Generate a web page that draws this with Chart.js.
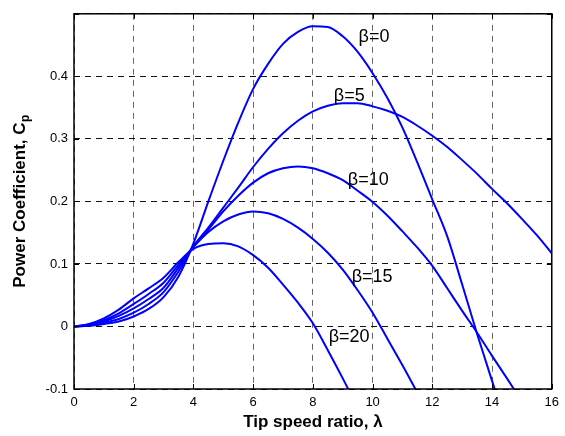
<!DOCTYPE html>
<html>
<head>
<meta charset="utf-8">
<script src="https://cdn.jsdelivr.net/npm/chart.js@4.4.0/dist/chart.umd.min.js"></script>
<style>
  body { margin: 0; background: #fff; }
  canvas { display: block; background: #fff; }
</style>
</head>
<body>
<canvas id="cpChart" width="565" height="436"></canvas>
<script>
// tip speed ratio samples
const lambda = [0,0.5,1,1.5,2,2.5,3,3.5,4,4.5,5,5.5,6,6.5,7,7.5,8,8.5,9,9.5,10,10.5,11,11.5,12,12.5,13,13.5,14,14.5,15,15.5,16];

// power coefficient, one array per pitch angle
const cpBeta0  = [0,0.001,0.004,0.008,0.016,0.028,0.047,0.08,0.133,0.2,0.265,0.326,0.38,0.42,0.452,0.471,0.48,0.479,0.464,0.439,0.405,0.365,0.318,0.262,0.203,0.144,0.067,-0.012,-0.087,-0.16,null,null,null];
const cpBeta5  = [0,0.0015,0.006,0.012,0.022,0.036,0.055,0.088,0.128,0.158,0.19,0.222,0.255,0.284,0.309,0.329,0.344,0.353,0.357,0.357,0.352,0.345,0.335,0.321,0.305,0.287,0.266,0.244,0.22,0.197,0.172,0.146,0.117];
const cpBeta10 = [0,0.002,0.008,0.017,0.029,0.044,0.062,0.094,0.128,0.155,0.184,0.209,0.23,0.245,0.253,0.256,0.253,0.245,0.234,0.217,0.199,0.177,0.152,0.126,0.097,0.061,0.025,-0.01,-0.047,-0.083,-0.12,null,null];
const cpBeta15 = [0,0.003,0.01,0.021,0.036,0.052,0.07,0.099,0.127,0.151,0.168,0.179,0.184,0.181,0.172,0.158,0.14,0.118,0.091,0.058,0.022,-0.02,-0.062,-0.106,null,null,null,null,null,null,null,null,null];
const cpBeta20 = [0,0.004,0.013,0.027,0.045,0.061,0.078,0.103,0.124,0.132,0.133,0.128,0.114,0.094,0.067,0.038,0.005,-0.038,-0.083,-0.13,null,null,null,null,null,null,null,null,null,null,null,null,null];

const betaNames = ['β=0', 'β=5', 'β=10', 'β=15', 'β=20'];
const xTicks = [0,2,4,6,8,10,12,14,16];
const yTicks = [-0.1,0,0.1,0.2,0.3,0.4,0.5];
const yTickLabels = ['-0.1','0','0.1','0.2','0.3','0.4',''];

// where the curve names sit (data units, left edge / baseline)
const labelPos = [
  {x: 9.53, y: 0.455},
  {x: 8.70, y: 0.361},
  {x: 9.17, y: 0.227},
  {x: 9.30, y: 0.071},
  {x: 8.53, y: -0.025}
];

const series = [cpBeta0, cpBeta5, cpBeta10, cpBeta15, cpBeta20];

function toPoints(arr) {
  const pts = [];
  for (let i = 0; i < lambda.length; i++) {
    if (arr[i] !== null) pts.push({x: lambda[i], y: arr[i]});
  }
  return pts;
}

const fontSans = "'Liberation Sans', Arial, sans-serif";

const framePlugin = {
  id: 'frame',
  afterDraw(chart) {
    const ctx = chart.ctx;
    const a = chart.chartArea;
    const xs = chart.scales.x;
    const ys = chart.scales.y;
    ctx.save();

    // ticks pointing inwards on all four sides
    ctx.strokeStyle = '#000';
    ctx.lineWidth = 1;
    ctx.beginPath();
    xTicks.forEach(function (v) {
      const px = Math.round(xs.getPixelForValue(v)) + 0.5;
      ctx.moveTo(px, a.bottom); ctx.lineTo(px, a.bottom - 5);
      ctx.moveTo(px, a.top); ctx.lineTo(px, a.top + 5);
    });
    yTicks.forEach(function (v) {
      const py = Math.round(ys.getPixelForValue(v)) + 0.5;
      ctx.moveTo(a.left, py); ctx.lineTo(a.left + 5, py);
      ctx.moveTo(a.right, py); ctx.lineTo(a.right - 5, py);
    });
    ctx.stroke();

    // box
    ctx.lineWidth = 1.5;
    ctx.strokeRect(a.left, a.top, a.right - a.left, a.bottom - a.top);

    // x axis title
    ctx.fillStyle = '#000';
    ctx.font = 'bold 17px ' + fontSans;
    ctx.textAlign = 'center';
    ctx.textBaseline = 'alphabetic';
    ctx.fillText('Tip speed ratio, λ', (a.left + a.right) / 2, a.bottom + 38);

    // y axis title with subscript
    const mainTxt = 'Power Coefficient, C';
    const subTxt = 'p';
    ctx.font = 'bold 17px ' + fontSans;
    const w1 = ctx.measureText(mainTxt).width;
    ctx.font = 'bold 12px ' + fontSans;
    const w2 = ctx.measureText(subTxt).width;
    ctx.translate(25, (a.top + a.bottom) / 2);
    ctx.rotate(-Math.PI / 2);
    ctx.textAlign = 'left';
    const start = -(w1 + w2) / 2;
    ctx.font = 'bold 17px ' + fontSans;
    ctx.fillText(mainTxt, start, 0);
    ctx.font = 'bold 12px ' + fontSans;
    ctx.fillText(subTxt, start + w1 + 0.5, 4);
    ctx.setTransform(1, 0, 0, 1, 0, 0);

    // curve names
    ctx.font = '18px ' + fontSans;
    ctx.textAlign = 'left';
    ctx.textBaseline = 'alphabetic';
    betaNames.forEach(function (name, i) {
      ctx.fillText(name, xs.getPixelForValue(labelPos[i].x), ys.getPixelForValue(labelPos[i].y));
    });

    ctx.restore();
  }
};

const ctx = document.getElementById('cpChart');

var cpChart = new Chart(ctx, {
  type: 'line',
  data: {
    datasets: series.map(function (arr, i) {
      return {
        label: betaNames[i],
        data: toPoints(arr),
        borderColor: '#0000ff',
        backgroundColor: '#0000ff',
        borderWidth: 2,
        pointRadius: 0,
        fill: false,
        cubicInterpolationMode: 'monotone',
        clip: 0
      };
    })
  },
  options: {
    responsive: false,
    animation: false,
    maintainAspectRatio: false,
    layout: { padding: { top: 9, right: 11, left: 0, bottom: 0 } },
    plugins: {
      legend: { display: false },
      tooltip: { enabled: false }
    },
    scales: {
      x: {
        type: 'linear',
        min: 0,
        max: 16,
        afterBuildTicks: function (scale) { scale.ticks = xTicks.map(function (v) { return {value: v}; }); },
        afterFit: function (scale) { scale.height = 47; },
        ticks: {
          color: '#000',
          font: { family: fontSans, size: 13 },
          padding: 6,
          maxRotation: 0,
          callback: function (v) { return String(v); }
        },
        grid: { color: '#666', lineWidth: 1, drawTicks: false },
        border: { display: false, dash: [6, 5] }
      },
      y: {
        type: 'linear',
        min: -0.1,
        max: 0.5,
        afterBuildTicks: function (scale) { scale.ticks = yTicks.map(function (v) { return {value: v}; }); },
        afterFit: function (scale) { scale.width = 74; },
        ticks: {
          color: '#000',
          font: { family: fontSans, size: 13 },
          padding: 6,
          callback: function (v) {
            const i = yTicks.indexOf(v);
            return i >= 0 ? yTickLabels[i] : '';
          }
        },
        grid: { color: '#111', lineWidth: 1, drawTicks: false },
        border: { display: false, dash: [6, 5] }
      }
    }
  },
  plugins: [framePlugin]
});
</script>
</body>
</html>
